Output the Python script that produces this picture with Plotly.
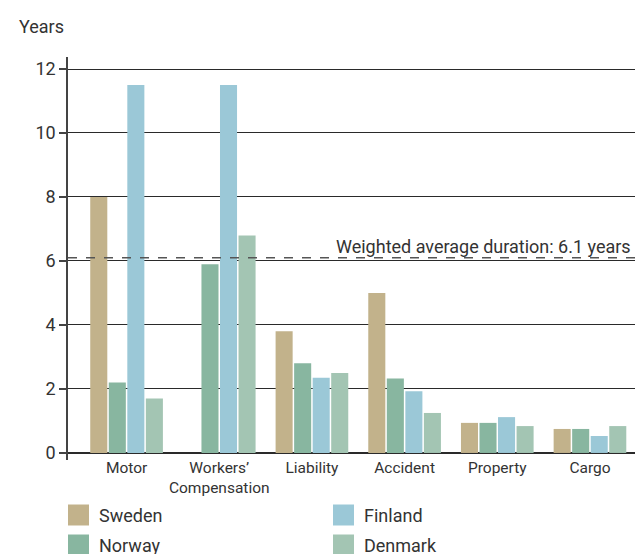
import plotly.graph_objects as go

categories = ["Motor", "Workers’<br>Compensation", "Liability", "Accident", "Property", "Cargo"]
series_names = ["Sweden", "Norway", "Finland", "Denmark"]
sweden = [8.0, None, 3.8, 5.0, 0.94, 0.75]
norway = [2.2, 5.9, 2.8, 2.33, 0.94, 0.75]
finland = [11.5, 11.5, 2.35, 1.93, 1.12, 0.53]
denmark = [1.7, 6.8, 2.5, 1.25, 0.84, 0.84]
colors = ["#c2b28b", "#88b6a0", "#9bc8d7", "#a3c5b3"]
weighted_avg = 6.1
y_ticks = [0, 2, 4, 6, 8, 10, 12]

FONT = "Roboto"
TXT = "#333333"

fig = go.Figure()
for name, vals, col in zip(series_names, [sweden, norway, finland, denmark], colors):
    fig.add_trace(go.Bar(x=categories, y=vals, name=name, marker_color=col,
                         marker_line_width=0, showlegend=False))

fig.update_layout(
    width=635, height=554,
    margin=dict(l=68, r=0, t=57, b=94),
    plot_bgcolor="white", paper_bgcolor="white",
    barmode="group", bargap=0.2, bargroupgap=0.08,
    font=dict(family=FONT, size=18, color=TXT),
    xaxis=dict(type="category", range=[-0.632, 5.486], showgrid=False, showline=False,
               ticks="", ticklabelstandoff=-4, tickfont=dict(size=15.5, color=TXT), fixedrange=True),
    yaxis=dict(range=[-0.22, 12.375], tickvals=y_ticks, showgrid=True, gridcolor="#2a2a2a",
               gridwidth=1.2, zeroline=True, zerolinecolor="#2a2a2a", zerolinewidth=1.5,
               showline=True, linecolor="#444444", linewidth=1.5, ticks="outside",
               ticklen=7, tickcolor="#444444", tickwidth=1.5,
               tickfont=dict(size=18, color=TXT)),
)

# weighted average dashed line
fig.add_shape(type="line", xref="paper", yref="y", x0=0, x1=1, y0=weighted_avg, y1=weighted_avg,
              line=dict(color="#555555", width=1.6, dash="dash"))
fig.add_annotation(xref="paper", yref="y", x=1, y=weighted_avg, xanchor="right", yanchor="bottom",
                   xshift=-2, yshift=-1, showarrow=False,
                   text=f"Weighted average duration: {weighted_avg} years",
                   font=dict(size=18, color=TXT))

# y-axis title
fig.add_annotation(xref="paper", yref="paper", x=-51/567, y=(460-27)/403, xanchor="left",
                   yanchor="middle", showarrow=False, text="Years", font=dict(size=18, color=TXT))

# legend (two columns; second row runs off the bottom edge as in the original)
legend_pos = {"Sweden": (68, 515), "Finland": (333, 515), "Norway": (68, 545), "Denmark": (333, 545)}
for name, col in zip(series_names, colors):
    px, py = legend_pos[name]
    fig.add_shape(type="rect", xref="paper", yref="paper",
                  x0=(px - 68) / 567, x1=(px + 21 - 68) / 567,
                  y0=(460 - (py + 10.5)) / 403, y1=(460 - (py - 10.5)) / 403,
                  fillcolor=col, line=dict(width=0))
    fig.add_annotation(xref="paper", yref="paper", x=(px + 29 - 68) / 567, y=(460 - py) / 403,
                       xanchor="left", yanchor="middle", showarrow=False, text=name,
                       font=dict(size=18, color=TXT))

fig.write_html("out.html")
